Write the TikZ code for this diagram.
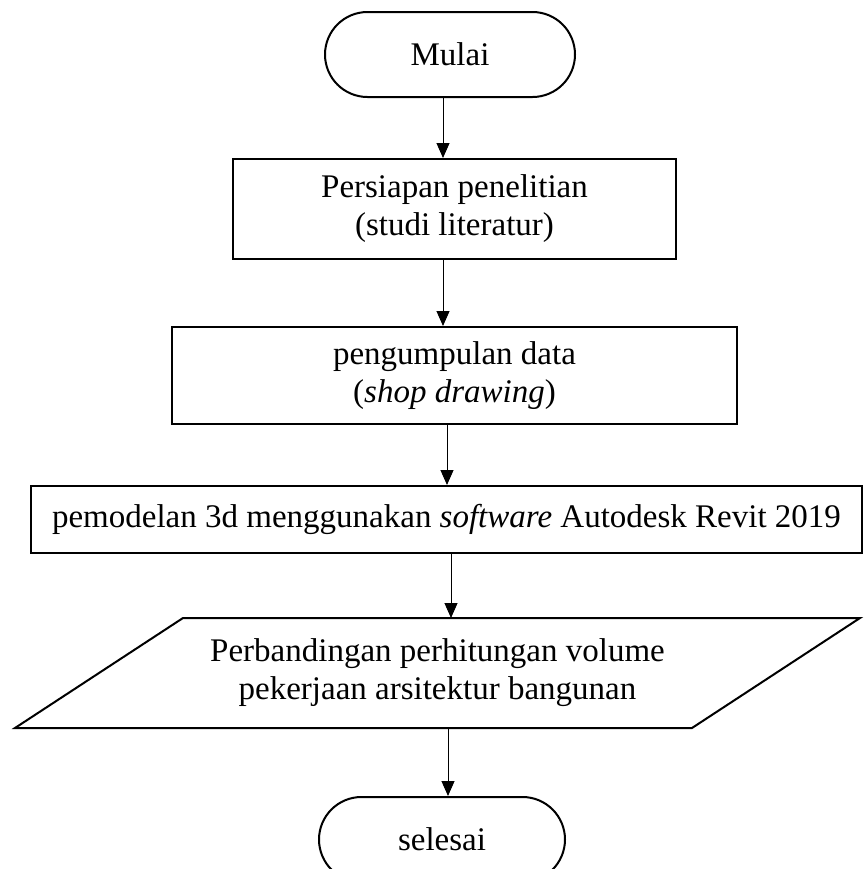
\documentclass[tikz,border=0pt]{standalone}
\usepackage{fontspec}
\setmainfont{Liberation Serif}
\usetikzlibrary{arrows.meta,calc}

\begin{document}
\begin{tikzpicture}[x=0.5pt,y=-0.5pt,
	terminal/.style={draw,line width=1pt,rounded corners=21.25pt,minimum height=42.5pt,inner sep=0pt},
	proses/.style={draw,line width=1pt,align=center,inner sep=0pt},
	panah/.style={-{Triangle[length=7.5pt,width=6.5pt]},line width=0.5pt},
	font=\fontsize{16.5}{19}\selectfont]
			\useasboundingbox (0,0) rectangle (864,869);
			\clip (0,0) rectangle (864,869);
			\node[terminal,minimum width=125pt] (mulai) at (450,54.5) {Mulai};
			\node[proses,minimum width=221.5pt,minimum height=50pt] (persiapan) at (454.5,209) {Persiapan penelitian\\(studi literatur)};
			\node[proses,minimum width=282.5pt,minimum height=48.5pt] (pengumpulan) at (454.5,375.5) {pengumpulan data\\(\textit{shop drawing})};
			\node[proses,minimum width=415.5pt,minimum height=33.5pt] (pemodelan) at (446.5,519.5) {pemodelan 3d menggunakan \textit{software} Autodesk Revit 2019};
			\node[align=center,inner sep=0pt,outer sep=0pt,minimum width=338.5pt,minimum height=55pt] (banding) at (437.5,673) {Perbandingan perhitungan volume\\pekerjaan arsitektur bangunan};
			\draw[line width=1pt] ($(banding.north west)+(84,0)$) -- ($(banding.north east)+(84,0)$) -- ($(banding.south east)-(84,0)$) -- ($(banding.south west)-(84,0)$) -- cycle;
			\node[terminal,minimum width=123pt] (selesai) at (442,839.5) {selesai};
			\foreach \a/\b/\c in {mulai/persiapan/443, persiapan/pengumpulan/443, pengumpulan/pemodelan/447, pemodelan/banding/451, banding/selesai/448}
			\draw[panah] (\a.south -| \c,0) -- (\b.north -| \c,0);
		\end{tikzpicture}
\end{document}
